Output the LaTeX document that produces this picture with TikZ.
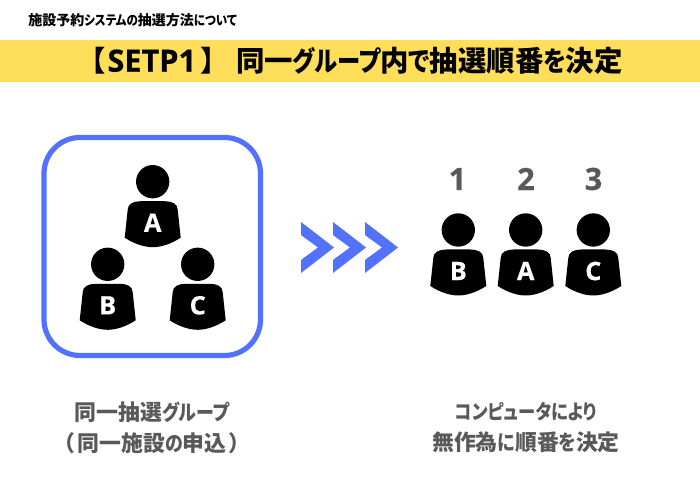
\documentclass[tikz,border=0pt]{standalone}
\usepackage{fontspec}
\setmainfont{Noto Sans CJK JP}[RawFeature={+palt},BoldFont={Noto Sans CJK JP Black}]
\newfontfamily\latinb{Open Sans}[BoldFeatures={FakeBold=0.5}]
\definecolor{band}{HTML}{FFDE59}
\definecolor{accent}{HTML}{5271FF}
\definecolor{greytext}{HTML}{595959}
\newcommand\kn[1]{\scalebox{0.82}[0.97]{#1}}
\newcommand\knn[1]{\scalebox{0.79}[0.93]{#1}}
\tikzset{
  x=0.75pt,y=-0.75pt,
  headdot/.style={circle,fill=black,minimum size=25pt,inner sep=0pt,draw=none},
  bodyletter/.style={text=white,font=\latinb\bfseries\fontsize{19pt}{19pt}\selectfont,inner sep=0pt},
  ranknum/.style={text=greytext,font=\latinb\bfseries\fontsize{23pt}{23pt}\selectfont,inner sep=0pt},
  caption/.style={text=greytext,font=\bfseries\fontsize{16.4pt}{23.2pt}\selectfont,align=center,inner sep=0pt},
  chev/.style={fill=accent,draw=none},
  pics/person/.style={code={
    \node[headdot] (#1-head) at (0,0) {};
    \fill[black] (-25,28) .. controls (-25,22) and (-19,19.5) .. (-12,19.5)
      -- (12,19.5) .. controls (19,19.5) and (25,22) .. (25,28)
      -- (28,56) .. controls (18,62.5) and (8,65.5) .. (0,65.5)
      .. controls (-8,65.5) and (-18,62.5) .. (-28,56) -- cycle;
    \node[bodyletter] (#1-letter) at (0,41) {#1};
  }}
}
\begin{document}
\begin{tikzpicture}
\useasboundingbox (0,0) rectangle (700,495);
\fill[white] (0,0) rectangle (700,495);
\fill[band] (0,40) rectangle (700,82);
\node[inner sep=0pt,font=\bfseries\fontsize{10.5pt}{11pt}\selectfont,anchor=west] (subtitle) at (28,20.5) {施設予約\kn{システムの}抽選方法\kn{について}};
\node[inner sep=0pt,font=\bfseries\fontsize{21.3pt}{24pt}\selectfont,anchor=west] (title) at (91,61) {【\kern1.5pt{\latinb\fontsize{23pt}{24pt}\selectfont SETP1}\kern3.5pt】\kern16pt 同一\kn{グループ}内\kn{で}抽選順番\kn{を}決定};
\draw[accent,line width=3.9pt,rounded corners=27pt] (44,137.5) rectangle (260.5,355.5);
\pic at (152.7,181.7) {person=A};
\pic at (107.7,264.3) {person=B};
\pic at (197.7,264.3) {person=C};
\foreach \dx in {0,32,64}
  \fill[chev] (301+\dx,222) -- (334+\dx,247.5) -- (301+\dx,273) -- (301+\dx,260) -- (318+\dx,247.5) -- (301+\dx,235) -- cycle;
\node[ranknum] (r1) at (457.5,179) {1};
\node[ranknum] (r2) at (526,179) {2};
\node[ranknum] (r3) at (593.5,179) {3};
\pic at (458.3,230) {person=B};
\pic at (525.7,230) {person=A};
\pic at (593.3,230) {person=C};
\node[caption] (capL) at (152,427.5) {同一抽選\kn{グループ}\\（\kern2.5pt 同一施設\kn{の}申込\kern2.5pt）};
\node[caption] (capR) at (526,427.5) {\knn{コンピュータにより}\\無作為\kn{に}順番\kn{を}決定};
\end{tikzpicture}
\end{document}
